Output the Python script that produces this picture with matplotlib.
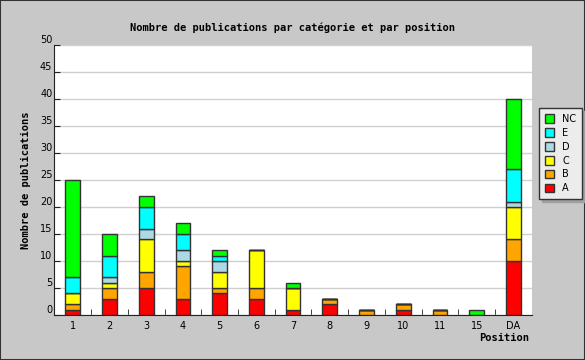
import matplotlib.pyplot as plt
import matplotlib.transforms as mtransforms
import numpy as np

positions = ['1', '2', '3', '4', '5', '6', '7', '8', '9', '10', '11', '15', 'DA']
cat_a = [1, 3, 5, 3, 4, 3, 1, 2, 0, 1, 0, 0, 10]
cat_b = [1, 2, 3, 6, 1, 2, 0, 1, 1, 1, 1, 0, 4]
cat_c = [2, 1, 6, 1, 3, 7, 4, 0, 0, 0, 0, 0, 6]
cat_d = [0, 1, 2, 2, 2, 0, 0, 0, 0, 0, 0, 0, 1]
cat_e = [3, 4, 4, 3, 1, 0, 0, 0, 0, 0, 0, 0, 6]
cat_nc = [18, 4, 2, 2, 1, 0, 1, 0, 0, 0, 0, 1, 13]

series = [('A', cat_a, '#ff0000'), ('B', cat_b, '#ffa500'), ('C', cat_c, '#ffff00'),
          ('D', cat_d, '#add8e6'), ('E', cat_e, '#00ffff'), ('NC', cat_nc, '#00ff00')]

mono = 'DejaVu Sans Mono'
sans = 'DejaVu Sans'
fig = plt.figure(figsize=(5.85, 3.6), dpi=100, facecolor='#c8c8c8')
fig.patches.append(plt.Rectangle((0, 0), 1, 1, transform=fig.transFigure, fill=False,
                                 edgecolor='#333333', linewidth=1.5))
ax = fig.add_axes([0.093, 0.125, 0.816, 0.75])
ax.set_facecolor('white')

x = np.arange(len(positions))
bottom = np.zeros(len(positions))
handles = []
for name, vals, col in series:
    vals = np.array(vals, dtype=float)
    b = ax.bar(x, vals, 0.4, bottom=bottom, color=col, edgecolor='#333333', linewidth=1, label=name)
    handles.append(b)
    bottom += vals

ax.set_xlim(-0.5, len(positions) - 0.5)
ax.set_ylim(0, 50)
ax.set_yticks(np.arange(0, 51, 5))
ax.yaxis.grid(True, color='#d0d0d0', linewidth=1)
ax.set_axisbelow(True)
ax.set_xticks(x)
ax.set_xticklabels(positions, fontsize=7, family=sans)
ax.set_xticks(np.arange(0.5, len(positions) - 0.5), minor=True)
ax.tick_params(axis='x', which='major', length=0, pad=4)
ax.tick_params(axis='x', which='minor', direction='in', length=4, color='#222222')
ax.tick_params(axis='y', direction='in', length=4, labelsize=7, color='#222222', pad=1.5)
for lbl in ax.get_yticklabels():
    lbl.set_family(sans)
    lbl.set_transform(lbl.get_transform() + mtransforms.ScaledTranslation(0, 4 / 72, fig.dpi_scale_trans))
for side in ['top', 'right']:
    ax.spines[side].set_visible(False)
for side in ['left', 'bottom']:
    ax.spines[side].set_color('#222222')

fig.text(0.5, 0.922, 'Nombre de publications par catégorie et par position', ha='center', va='center',
         fontsize=7.5, fontweight='bold', family=mono)
fig.text(0.045, 0.5, 'Nombre de publications', rotation=90, ha='center', va='center',
         fontsize=7.5, fontweight='bold', family=mono)
fig.text(0.862, 0.062, 'Position', ha='center', va='center', fontsize=7.5, fontweight='bold', family=mono)

leg = fig.legend(handles[::-1], [s[0] for s in series][::-1], loc='upper left',
                 bbox_to_anchor=(0.921, 0.70), borderaxespad=0, prop={'family': sans, 'size': 7},
                 frameon=True, fancybox=False, facecolor='#ececec', edgecolor='#333333',
                 handlelength=1.0, handleheight=1.0, borderpad=0.6, labelspacing=0.4,
                 handletextpad=0.8, shadow={'color': '#a0a0a0', 'alpha': 1})
leg.get_frame().set_linewidth(1)

fig.savefig('out.png', dpi=100, facecolor=fig.get_facecolor())
